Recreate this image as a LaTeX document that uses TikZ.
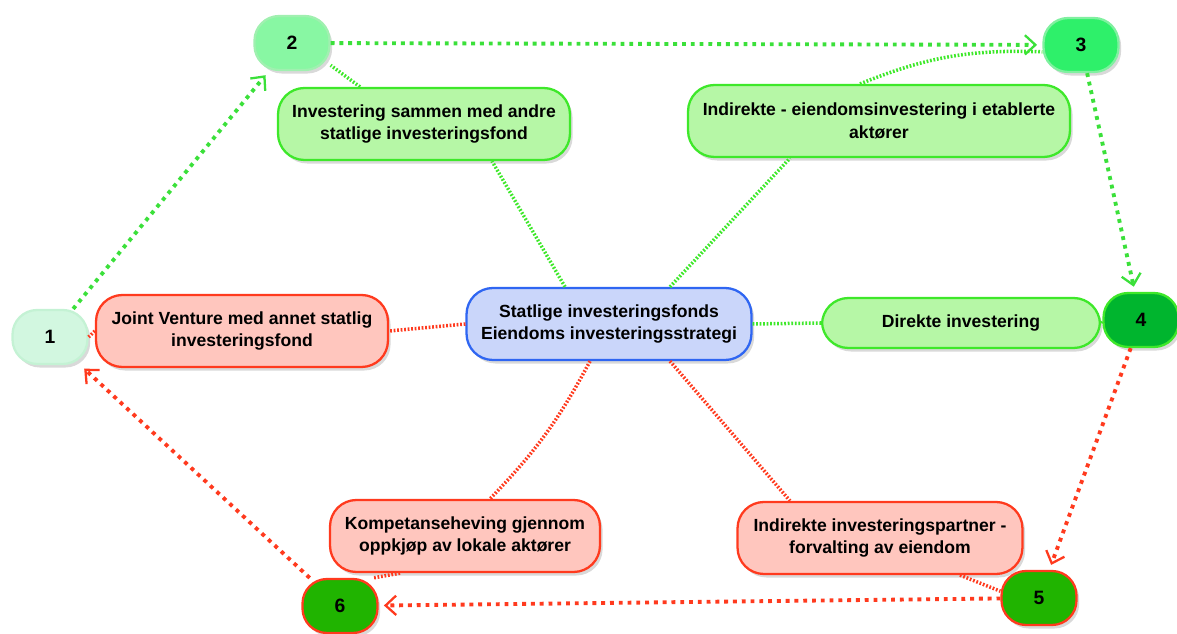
\documentclass[tikz,border=0pt]{standalone}
\usepackage{fontspec}
\setmainfont{Liberation Sans}
\usetikzlibrary{positioning,arrows.meta,shadows}

\definecolor{grnfill}{HTML}{B6F7A6}
\definecolor{grnline}{HTML}{3EE82A}
\definecolor{redfill}{HTML}{FFC6BE}
\definecolor{redline}{HTML}{FF3A1E}
\definecolor{bluefill}{HTML}{CAD6FA}
\definecolor{blueline}{HTML}{2F66F2}
\definecolor{flowgrn}{HTML}{3BE03A}
\definecolor{flowred}{HTML}{FF3A1E}
\definecolor{fillone}{HTML}{D2F7E0}
\definecolor{lineone}{HTML}{C4F2D4}
\definecolor{filltwo}{HTML}{88F7A3}
\definecolor{linetwo}{HTML}{A0F0B0}
\definecolor{fillthree}{HTML}{2EF06A}
\definecolor{linethree}{HTML}{80F0A0}
\definecolor{fillfour}{HTML}{00B52E}
\definecolor{fillfive}{HTML}{20B400}

\begin{document}
\begin{tikzpicture}[x=0.02cm,y=-0.02cm,
        box/.style = {
            draw,
            line width=1.3pt,
            rounded corners=15pt,
            align=center,
            minimum height=1.44cm,
            font=\fontsize{10}{13}\selectfont\bfseries,
            drop shadow={shadow xshift=1.5pt,shadow yshift=-2pt,opacity=0.3}
        },
        greenbox/.style = {box, draw=grnline, fill=grnfill},
        redbox/.style = {box, draw=redline, fill=redfill},
        num/.style = {
            draw,
            line width=1.3pt,
            rounded corners=14pt,
            minimum width=1.5cm,
            minimum height=1.08cm,
            font=\fontsize{11}{13}\selectfont\bfseries,
            drop shadow={shadow xshift=1.5pt,shadow yshift=-2pt,opacity=0.3}
        },
        flow/.style = {line width=2.2pt, dash pattern=on 2.2pt off 2.8pt, shorten >=3pt,
            -{Straight Barb[length=6pt,width=11pt,line width=1.3pt]}},
        link/.style = {line width=2pt, dash pattern=on 1pt off 1pt}]

        \useasboundingbox (0,0) rectangle (1177,634);

        \node[box, draw=blueline, fill=bluefill, minimum width=5.7cm] (mid) at (609,324) {Statlige investeringsfonds\\Eiendoms investeringsstrategi};

        \node[greenbox, minimum width=5.84cm] (sammen) at (424,124) {Investering sammen med andre\\statlige investeringsfond};
        \node[greenbox, minimum width=7.64cm] (indir) at (879,121) {Indirekte - eiendomsinvestering i etablerte\\aktører};
        \node[greenbox, minimum width=5.56cm, minimum height=1cm] (direkte) at (961,323) {Direkte investering};
        \node[redbox, minimum width=5.84cm] (joint) at (242,331) {Joint Venture med annet statlig\\investeringsfond};
        \node[redbox, minimum width=5.4cm] (kompetanse) at (465,536) {Kompetanseheving gjennom\\oppkjøp av lokale aktører};
        \node[redbox, minimum width=5.7cm] (partner) at (880,538) {Indirekte investeringspartner -\\forvalting av eiendom};

        \node[num, draw=lineone, fill=fillone] (n1) at (50,337) {1};
        \node[num, draw=linetwo, fill=filltwo] (n2) at (292,43) {2};
        \node[num, draw=linethree, fill=fillthree] (n3) at (1081,45) {3};
        \node[num, draw=grnline, fill=fillfour] (n4) at (1141,320) {4};
        \node[num, draw=redline, fill=fillfive] (n5) at (1039,598) {5};
        \node[num, draw=redline, fill=fillfive] (n6) at (340,606) {6};

        % hovedsirkel
        \draw[flow, flowgrn] (n1) -- (n2);
        \draw[flow, flowgrn] (n2) -- (n3);
        \draw[flow, flowgrn] (n3) -- (n4);
        \draw[flow, flowred] (n4) -- (n5);
        \draw[flow, flowred] (n5) -- (n6);
        \draw[flow, flowred] (n6) -- (n1);

        % strategi til tiltak
        \draw[link, grnline] ([xshift=-0.88cm]mid.north) -- ([xshift=1.36cm]sammen.south);
        \draw[link, grnline] ([xshift=-1.28cm]sammen.north) -- (n2.-30);
        \draw[link, grnline] ([xshift=1.22cm]mid.north) -- ([xshift=-1.78cm]indir.south);
        \draw[link, grnline] ([xshift=-0.38cm]indir.north) to[bend left=12] (n3.190);
        \draw[link, grnline] (mid.east) -- (direkte.west);
        \draw[link, grnline] (direkte.east) -- (n4.west);
        \draw[link, redline] (mid.west) -- (joint.east);
        \draw[link, redline] (joint.west) -- (n1.east);
        \draw[link, redline] ([xshift=-0.38cm]mid.south) to[bend left=8] ([xshift=0.5cm]kompetanse.north);
        \draw[link, redline] ([xshift=-1.3cm]kompetanse.south) -- (n6.40);
        \draw[link, redline] ([xshift=1.22cm]mid.south) -- ([xshift=-1.8cm]partner.north);
        \draw[link, redline] ([xshift=1.6cm]partner.south) -- (n5.170);
    \end{tikzpicture}
\end{document}
